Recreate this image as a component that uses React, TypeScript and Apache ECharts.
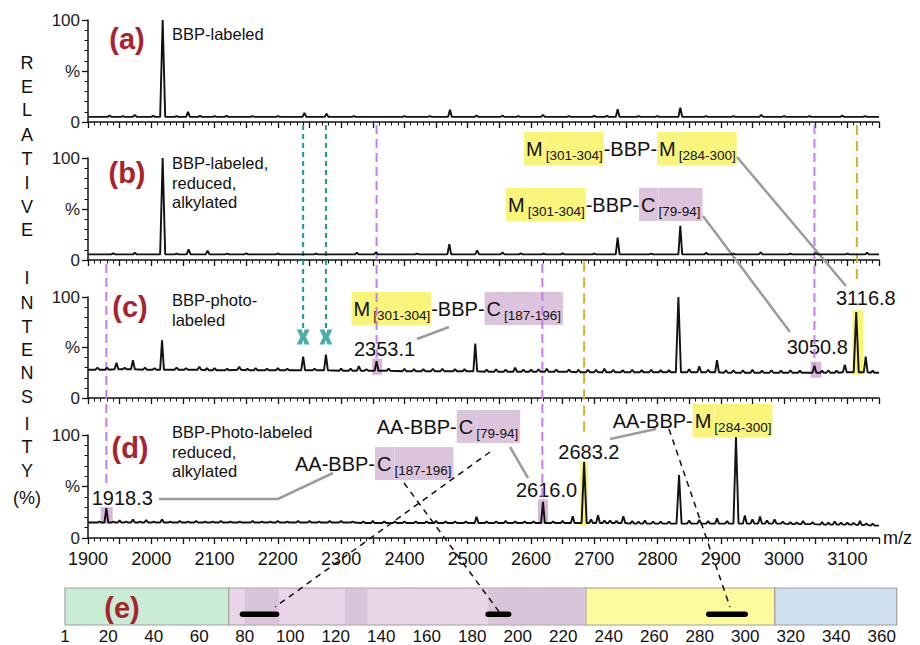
import React, { useEffect, useRef } from 'react';
import * as echarts from 'echarts';

const FONT = '"Liberation Sans", Arial, Helvetica, sans-serif';

// ---------- m/z axis ----------
const mzMin = 1900;
const mzMax = 3150;
const yTickValues = [0, 50, 100];
const yTickLabels = ['0', '%', '100'];

// ---------- panel captions ----------
const panelIds = ['(a)', '(b)', '(c)', '(d)', '(e)'];
const panelNotes = [
  'BBP-labeled',
  'BBP-labeled,\nreduced,\nalkylated',
  'BBP-photo-\nlabeled',
  'BBP-Photo-labeled\nreduced,\nalkylated',
];

// ---------- spectra: [m/z, peak intensity %, local baseline %] ----------
const peaksA = [
  [1934, 6.5, 5], [1955, 5.8, 5], [1974, 7, 5], [2003, 6, 5], [2018, 100, 5], [2040, 5.8, 5],
  [2058, 10, 5], [2077, 6, 5], [2100, 5.8, 5], [2119, 6, 5], [2160, 5.8, 5], [2200, 5.8, 5],
  [2242, 9, 5], [2277, 8, 5], [2320, 5.8, 5], [2400, 5.8, 5], [2440, 5.8, 5], [2472, 12, 5],
  [2514, 6.5, 5], [2555, 6.5, 5], [2580, 5.8, 5], [2619, 7, 5], [2660, 5.8, 5], [2700, 6, 5],
  [2720, 6, 5], [2737, 12.5, 5], [2770, 5.8, 5], [2800, 5.8, 5], [2836, 14, 5], [2877, 5.8, 5],
  [2920, 5.8, 5], [2964, 7, 5], [3000, 5.8, 5], [3040, 5.8, 5], [3092, 6.5, 5], [3128, 5.8, 5],
];
const endsA = [5, 5];

const peaksB = [
  [1940, 6.5, 5.5], [1974, 7, 5.5], [2018, 100, 5.5], [2040, 6.3, 5.5], [2059, 10.5, 5.5],
  [2089, 9, 5.5], [2120, 6.3, 5.5], [2150, 6.5, 5.5], [2200, 6.3, 5.5], [2260, 6.3, 5.5],
  [2325, 7, 5.5], [2355, 7.5, 5.5], [2420, 6.3, 5.5], [2471, 15.5, 5.5], [2515, 9.5, 5.5],
  [2555, 7.5, 5.5], [2584, 6.5, 5.5], [2620, 6.3, 5.5], [2650, 6.5, 5.5], [2700, 6.3, 5.5],
  [2737, 22, 5.5], [2790, 6.3, 5.5], [2836, 33.5, 5.5], [2877, 7, 5.5], [2920, 6.3, 5.5],
  [2963, 7.5, 5.5], [3010, 6.3, 5.5], [3050, 6.5, 5.5], [3100, 6.3, 5.5], [3131, 7, 5.5],
];
const endsB = [5.5, 5.5];

const peaksC = [
  [1915, 30, 28], [1930, 30, 28], [1945, 35, 28.5], [1958, 30, 28.5], [1971, 37.5, 28.5],
  [1990, 30, 28], [2005, 29.5, 28], [2017, 57, 28], [2040, 30, 28], [2055, 29.5, 28],
  [2076, 31, 28], [2088, 29.5, 27.5], [2100, 29.5, 27.5], [2120, 29, 27.5], [2139, 31, 28],
  [2152, 29, 27.5], [2165, 29.5, 27.5], [2183, 29, 27.5], [2200, 29.5, 27.5], [2215, 29, 27.5],
  [2240, 41, 27.5], [2258, 29, 27.5], [2276, 43, 27.5], [2300, 29, 27], [2315, 29, 27],
  [2328, 31.5, 27], [2340, 28.5, 27], [2356, 36.5, 27], [2375, 29, 27], [2400, 29, 26.5],
  [2415, 28.5, 26.5], [2430, 28.5, 26.5], [2445, 29, 26.5], [2460, 29, 26.5], [2480, 28.5, 26.5],
  [2495, 28.5, 26.5], [2512, 54, 26.5], [2530, 28, 26], [2545, 28.5, 26], [2560, 28, 26],
  [2575, 30, 26], [2588, 28, 26], [2600, 28, 26], [2612, 28.5, 26], [2625, 29, 26],
  [2640, 28, 26], [2660, 28, 26], [2675, 28, 25.5], [2690, 28, 25.5], [2703, 28, 25.5],
  [2716, 29, 25.5], [2730, 28, 25.5], [2745, 27.5, 25.5], [2760, 28, 25.5], [2775, 27.5, 25.5],
  [2790, 28, 25.5], [2805, 27.5, 25.5], [2818, 27.5, 25.5], [2833, 100, 25.5], [2850, 28.5, 25.5],
  [2866, 31.5, 25.5], [2880, 28, 25.5], [2894, 37.5, 25.5], [2908, 27.5, 25], [2920, 27.5, 25],
  [2935, 27.5, 25], [2950, 28, 25], [2965, 27, 25], [2980, 27.5, 25], [2995, 27, 25],
  [3010, 27.5, 25], [3025, 27, 25], [3048, 32, 25], [3060, 27, 25], [3070, 27.5, 25],
  [3083, 27, 25], [3096, 33, 25.5], [3114, 85, 25.5], [3129, 41, 25.5], [3140, 27, 25],
];
const endsC = [28, 25];

const peaksD = [
  [1918, 16, 15], [1929, 29, 15], [1940, 16, 15], [1950, 17, 15], [1960, 16, 15],
  [1971, 18, 15], [1982, 16, 15], [1992, 17.5, 15], [2004, 16, 15], [2017, 18, 15],
  [2030, 16, 15], [2045, 16.5, 15], [2058, 16, 15], [2071, 16.5, 15], [2085, 15.8, 15],
  [2097, 16, 15], [2110, 16.5, 15], [2125, 16, 15], [2140, 16, 15], [2160, 16.5, 15],
  [2175, 16, 15], [2188, 16, 15], [2200, 16.5, 15], [2215, 16, 15], [2232, 16.5, 15],
  [2250, 16.5, 15], [2265, 16, 15], [2282, 16.5, 15], [2300, 16.5, 15], [2318, 16, 15],
  [2335, 16, 14.5], [2350, 16.5, 14.5], [2368, 16, 14.5], [2385, 16, 14.5], [2400, 16, 14.5],
  [2418, 16, 14.5], [2435, 16, 14.5], [2450, 16.5, 14.5], [2465, 16, 14.5], [2480, 16, 14.5],
  [2497, 16, 14.5], [2514, 20.5, 14.5], [2530, 16, 14.5], [2545, 16, 14.5], [2560, 16.5, 14.5],
  [2575, 16, 14.5], [2590, 16, 14.5], [2604, 16, 14.5], [2619, 35, 14.5], [2635, 16, 14.5],
  [2650, 16.5, 14.5], [2666, 21, 14.5], [2684, 74, 14.5], [2695, 18, 14.5], [2706, 22, 14.5],
  [2716, 17, 14.5], [2725, 17, 14.5], [2735, 16.5, 14.5], [2746, 21, 14.5], [2760, 16.5, 14],
  [2770, 16, 14], [2780, 17, 14], [2793, 16, 14], [2805, 16, 14], [2818, 16, 14],
  [2834, 61, 14], [2850, 17, 14], [2866, 17.5, 14], [2880, 16.5, 14], [2894, 19, 14],
  [2910, 16.5, 14], [2924, 98, 14], [2938, 22, 14], [2950, 18, 14], [2962, 21, 14],
  [2973, 17, 14], [2985, 18, 14], [2998, 16, 14], [3010, 15.5, 13.5], [3020, 15, 13.5],
  [3030, 16.5, 13.5], [3045, 15.5, 13.5], [3060, 15.5, 13], [3070, 15, 13], [3080, 16, 13],
  [3090, 15, 13], [3100, 15, 13], [3110, 14.5, 13], [3120, 16.5, 12.5], [3130, 14, 12.5],
  [3140, 14, 12],
];
const endsD = [15, 12];

// highlighted peaks: [m/z from, m/z to, intensity from, intensity to, residue type]
const highlightsC = [
  [2349, 2365, 23, 39, 'C'],
  [3042, 3059, 20, 36, 'C'],
  [3108, 3125, 23, 87, 'M'],
];
const highlightsD = [
  [1920, 1939, 14, 30, 'C'],
  [2611, 2627, 14, 37.5, 'C'],
  [2678, 2690, 12.5, 74, 'M'],
];

// photo-label artefact markers in (c): [m/z, intensity]
const crossMarks = [[2240, 60.5], [2276, 60.5]];

// guide m/z values
const guideTealMz = [2240, 2276];
const guideCysAC = [2356, 3048];
const guideMetAC = [3115];
const guideCysBD = [1929, 2618];
const guideMetBD = [2684];

// peak labels
const peakLabels = ['2353.1', '3050.8', '3116.8', '1918.3', '2616.0', '2683.2'];

// ---------- protein map (e) ----------
const seqMin = 1;
const seqMax = 366.6;
const seqTicks = [1, 20, 40, 60, 80, 100, 120, 140, 160, 180, 200, 220, 240, 260, 280, 300, 320, 340, 360];
const domainStarts = [1, 73, 230, 313];
const domainEnds = [73, 230, 313, 366.6];
const darkBands = [[80, 95], [124, 134], [187, 230]];
const crosslinkSegments = [[79, 94], [187, 196], [284, 300]];

// ---------- styles ----------
const INK = '#111111';
const RED = '#a8232e';
const VIOLET = '#c47fe6';
const GOLD = '#dcaa2a';
const TEAL = '#1f9898';
const YEL = '#f8f57a';
const PUR = '#dcc5dc';
const GREY = '#9c9c9c';
const domainColors = ['#c9ecd5', '#ead5e8', '#fdfa9c', '#cee0ee'];
const bandColor = '#dac4d9';
const hlColor: Record<string, string> = { C: 'rgba(205,165,205,0.8)', M: 'rgba(250,244,100,0.9)' };

const gridTops = [20, 158, 297, 435];
const gridHeights = [102, 102, 101, 103];

function trace(peaks: any[], ends: number[]) {
  const pts: number[][] = [[mzMin, ends[0]]];
  peaks.forEach(([mz, top, base]) => {
    const w = top - base > 30 ? 4 : 3;
    pts.push([mz - w, base], [mz, top], [mz + w, base]);
  });
  pts.push([mzMax, ends[1]]);
  return pts;
}

const traces = [trace(peaksA, endsA), trace(peaksB, endsB), trace(peaksC, endsC), trace(peaksD, endsD)];
const highlightSets = [[], [], highlightsC, highlightsD];

const richStyles = {
  n: { fontSize: 20, fontFamily: FONT, fill: INK, height: 33 },
  y: { fontSize: 20, fontFamily: FONT, fill: INK, height: 33, backgroundColor: YEL, padding: [0, 3, 0, 2] },
  ys: { fontSize: 13.5, fontFamily: FONT, fill: INK, height: 20, backgroundColor: YEL, padding: [13, 1, 0, 0] },
  p: { fontSize: 20, fontFamily: FONT, fill: INK, height: 33, backgroundColor: PUR, padding: [0, 3, 0, 2] },
  ps: { fontSize: 13.5, fontFamily: FONT, fill: INK, height: 20, backgroundColor: PUR, padding: [13, 2, 0, 0] },
};

function buildOption() {
  const grids: any[] = gridTops.map((t, i) => ({ left: 88, width: 791, top: t, height: gridHeights[i] }));
  grids.push({ left: 65, width: 831.7, top: 588, height: 38 });

  const xAxes: any[] = gridTops.map((_, i) => ({
    type: 'value', gridIndex: i, min: mzMin, max: mzMax, interval: 50,
    axisLine: { show: true, onZero: false, lineStyle: { color: INK, width: 1.5 } },
    axisTick: { show: true, length: 6, lineStyle: { color: INK, width: 1.3 } },
    minorTick: { show: true, splitNumber: 5, length: 3.5, lineStyle: { color: INK, width: 1 } },
    splitLine: { show: false },
    axisLabel: i === 3
      ? { show: true, fontSize: 18, fontFamily: FONT, color: INK, margin: 12,
          formatter: (v: number) => (v % 100 === 0 ? String(v) : '') }
      : { show: false },
    name: i === 3 ? 'm/z' : '',
    nameLocation: 'end', nameGap: 4,
    nameTextStyle: { fontSize: 18, fontFamily: FONT, color: INK },
  }));
  xAxes.push({
    type: 'value', gridIndex: 4, min: seqMin, max: seqMax,
    axisLine: { show: false }, axisTick: { show: false }, splitLine: { show: false },
    axisLabel: { show: true, customValues: seqTicks, fontSize: 17, fontFamily: FONT, color: INK, margin: 3 },
  });

  const yAxes: any[] = gridTops.map((_, i) => ({
    type: 'value', gridIndex: i, min: 0, max: 100, interval: 50,
    axisLine: { show: true, lineStyle: { color: INK, width: 1.5 } },
    axisTick: { show: true, length: 6, lineStyle: { color: INK, width: 1.3 } },
    minorTick: { show: true, splitNumber: 5, length: 3.5, lineStyle: { color: INK, width: 1 } },
    splitLine: { show: false },
    axisLabel: {
      fontSize: 17, fontFamily: FONT, color: '#222', margin: 8,
      formatter: (v: number) => yTickLabels[yTickValues.indexOf(v)] ?? '',
    },
  }));
  yAxes.push({ type: 'value', gridIndex: 4, min: 0, max: 1, show: false });

  const series: any[] = traces.map((data, i) => ({
    type: 'line', xAxisIndex: i, yAxisIndex: i, data, showSymbol: false, symbol: 'none',
    silent: true, lineStyle: { color: INK, width: 1.9 }, z: 3,
    markArea: highlightSets[i].length ? {
      silent: true,
      data: highlightSets[i].map((h: any) => [
        { xAxis: h[0], yAxis: h[2], itemStyle: { color: hlColor[h[4]] } },
        { xAxis: h[1], yAxis: h[3] },
      ]),
    } : undefined,
  }));

  series.push({
    type: 'scatter', xAxisIndex: 2, yAxisIndex: 2, data: crossMarks, z: 6, silent: true,
    symbol: 'path://M0,0L5.5,0L7,4L8.5,0L14,0L10,7L14,14L8.5,14L7,10L5.5,14L0,14L4,7Z',
    symbolSize: [13, 15], itemStyle: { color: TEAL },
  });

  // protein map
  series.push({
    type: 'custom', xAxisIndex: 4, yAxisIndex: 4, silent: true, z: 2,
    data: domainStarts.map((s, i) => [s, domainEnds[i], i]),
    renderItem: (_p: any, api: any) => {
      const a = api.coord([api.value(0), 1]);
      const b = api.coord([api.value(1), 0]);
      return {
        type: 'rect',
        shape: { x: a[0], y: a[1], width: b[0] - a[0], height: b[1] - a[1] },
        style: { fill: domainColors[api.value(2)], stroke: '#a0a0a0', lineWidth: 1.2 },
      };
    },
  });
  series.push({
    type: 'custom', xAxisIndex: 4, yAxisIndex: 4, silent: true, z: 3,
    data: darkBands,
    renderItem: (_p: any, api: any) => {
      const a = api.coord([api.value(0), 1]);
      const b = api.coord([api.value(1), 0]);
      return {
        type: 'rect',
        shape: { x: a[0], y: a[1] + 1, width: b[0] - a[0], height: b[1] - a[1] - 2 },
        style: { fill: bandColor },
      };
    },
  });
  series.push({
    type: 'custom', xAxisIndex: 4, yAxisIndex: 4, silent: true, z: 4,
    data: crosslinkSegments,
    renderItem: (_p: any, api: any) => {
      const a = api.coord([api.value(0), 0.29]);
      const b = api.coord([api.value(1), 0.29]);
      return {
        type: 'line',
        shape: { x1: a[0], y1: a[1], x2: b[0], y2: b[1] },
        style: { stroke: '#000', lineWidth: 5.5, lineCap: 'round' },
      };
    },
  });

  return {
    animation: false,
    backgroundColor: '#ffffff',
    grid: grids,
    xAxis: xAxes,
    yAxis: yAxes,
    series,
  };
}

const sideLetterY = [63, 87, 110, 135, 159, 183, 207, 230, 278, 303, 327, 350, 373, 397, 424, 447, 471, 498];
const sideLetters = ['R', 'E', 'L', 'A', 'T', 'I', 'V', 'E', 'I', 'N', 'T', 'E', 'N', 'S', 'I', 'T', 'Y', '(%)'];

export default function App() {
  const ref = useRef<HTMLDivElement>(null);
  useEffect(() => {
    if (!ref.current) return;
    const chart = echarts.init(ref.current, null, { renderer: 'svg' });
    chart.setOption(buildOption() as any);

    const P = (g: number, mz: number, v: number) =>
      chart.convertToPixel({ gridIndex: g } as any, [mz, v]) as unknown as number[];

    const guideLine = (mz: number, g0: number, v0: number, g1: number, v1: number, color: string, dash: number[]) => {
      const a = P(g0, mz, v0);
      const b = P(g1, mz, v1);
      return {
        type: 'line', z: 1, silent: true,
        shape: { x1: a[0], y1: a[1], x2: b[0], y2: b[1] },
        style: { stroke: color, lineWidth: 2, lineDash: dash },
      };
    };

    const graphics: any[] = [];
    guideTealMz.forEach((mz) => graphics.push(guideLine(mz, 0, -3, 2, 66, TEAL, [5, 4])));
    graphics.push(guideLine(guideCysAC[0], 0, -3, 2, 38, VIOLET, [9, 5]));
    graphics.push(guideLine(guideCysAC[1], 0, -3, 2, 33, VIOLET, [9, 5]));
    graphics.push(guideLine(guideMetAC[0], 0, -3, 2, 112, GOLD, [10, 6]));
    graphics.push(guideLine(guideCysBD[0], 1, -4, 3, 51, VIOLET, [9, 5]));
    graphics.push(guideLine(guideCysBD[1], 1, -4, 3, 40, VIOLET, [9, 5]));
    graphics.push(guideLine(guideMetBD[0], 1, -1.5, 3, 100, GOLD, [10, 6]));

    // side title
    sideLetters.forEach((s, i) => graphics.push({
      type: 'text', x: 27, y: sideLetterY[i], silent: true,
      style: { text: s, fontSize: 18, fontFamily: FONT, fill: INK, align: 'center', verticalAlign: 'middle' },
    }));

    // panel ids
    const idPos = [[127, 38.5], [127, 173], [130, 307], [130, 448], [122, 607.5]];
    panelIds.forEach((t, i) => graphics.push({
      type: 'text', x: idPos[i][0], y: idPos[i][1], silent: true, z: 10,
      style: { text: t, fontSize: 29, fontWeight: 'bold', fontFamily: FONT, fill: RED, align: 'center', verticalAlign: 'middle' },
    }));

    // panel notes
    const notePos = [[172, 34], [172, 163], [172, 300], [172, 432]];
    panelNotes.forEach((t, i) => graphics.push({
      type: 'text', x: notePos[i][0], y: notePos[i][1] - 9.75, silent: true, z: 10,
      style: { text: t, fontSize: 16.5, fontFamily: FONT, fill: INK, align: 'left', verticalAlign: 'top', lineHeight: 19.5 },
    }));

    // peptide annotations
    const ann = [
      { t: '{y|M}{ys|[301-304]}{n|-BBP-}{y|M}{ys|[284-300]}', x: 524, y: 132 },
      { t: '{y|M}{ys|[301-304]}{n|-BBP-}{p|C}{ps|[79-94]}', x: 506, y: 188 },
      { t: '{y|M}{ys|[301-304]}{n|-BBP-}{p|C}{ps|[187-196]}', x: 351.5, y: 292 },
      { t: '{n|AA-BBP-}{p|C}{ps|[79-94]}', x: 376.7, y: 410 },
      { t: '{n|AA-BBP-}{p|C}{ps|[187-196]}', x: 295, y: 447 },
      { t: '{n|AA-BBP-}{y|M}{ys|[284-300]}', x: 612.7, y: 404 },
    ];
    ann.forEach((a) => graphics.push({
      type: 'text', x: a.x, y: a.y, silent: true, z: 0,
      style: { text: a.t, rich: richStyles, fontSize: 20, fontFamily: FONT, fill: INK, align: 'left', verticalAlign: 'top' },
    }));

    // peak value labels
    const lblPos = [[354, 349.3], [786.7, 347.3], [836, 298.3], [91.7, 498.3], [516, 490], [558.3, 451.7]];
    peakLabels.forEach((t, i) => graphics.push({
      type: 'text', x: lblPos[i][0], y: lblPos[i][1], silent: true, z: 0,
      style: { text: t, fontSize: 20, fontFamily: FONT, fill: INK, align: 'left', verticalAlign: 'middle' },
    }));

    // grey leader lines
    const leaders = [
      [[737, 157], [846, 286]],
      [[703, 216], [790, 332]],
      [[417, 339], [449, 327]],
      [[159, 499], [278, 499], [333, 473]],
      [[510, 447], [528, 478]],
      [[610, 439], [656, 429]],
    ];
    leaders.forEach((pts) => graphics.push({
      type: 'polyline', silent: true, z: 1,
      shape: { points: pts },
      style: { stroke: GREY, lineWidth: 2.5, fill: 'none' },
    }));

    // black dashed connectors to the sequence map
    const connectors = [
      [[490, 452], [275, 607]],
      [[404, 483], [500, 613]],
      [[669, 429], [730, 607]],
    ];
    connectors.forEach((c) => graphics.push({
      type: 'line', silent: true, z: 5,
      shape: { x1: c[0][0], y1: c[0][1], x2: c[1][0], y2: c[1][1] },
      style: { stroke: INK, lineWidth: 1.5, lineDash: [6, 5] },
    }));

    chart.setOption({ graphic: graphics } as any);
    return () => chart.dispose();
  }, []);

  return (
    <div
      ref={ref}
      style={{ position: 'fixed', left: 0, top: 0, width: 920, height: 645, background: '#fff' }}
    />
  );
}
